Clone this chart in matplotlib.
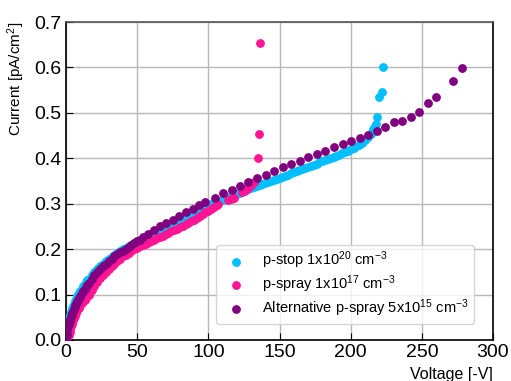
import matplotlib
matplotlib.use("Agg")
import matplotlib.pyplot as plt

plt.rcParams['font.family'] = ['Liberation Sans', 'DejaVu Sans']
plt.rcParams['mathtext.default'] = 'regular'

# p-stop 1x10^20 (dense scan)
pstop_v = [0, 0.5, 1, 1.5, 2, 2.5, 3, 3.5, 4, 4.5, 5, 5.5, 6, 6.5, 7, 7.5, 8, 8.5, 9, 9.5, 10, 11,
           12, 13, 14, 15, 16, 18, 20, 22, 24, 26, 28, 30,
           32, 34, 36, 38, 40, 42, 44, 46, 48, 50, 52, 54, 56, 58, 60, 62, 64, 66, 68, 70,
           72, 74, 76, 78, 80, 82, 84, 86, 88, 90, 92, 94, 96, 98, 100, 102, 104, 106, 108, 110,
           112, 114, 116, 118, 120, 122, 124, 126, 128, 130, 132, 134, 136, 138, 140, 142, 144, 146, 148, 150,
           152, 154, 156, 158, 160, 162, 164, 166, 168, 170, 172, 174, 176, 178, 180, 182, 184, 186, 188, 190,
           192, 194, 196, 198, 200, 202, 204, 206, 208, 210, 212, 214, 215, 216, 217, 217.8, 218.3, 219.9, 222, 223]
pstop_i = [0.000, 0.020, 0.030, 0.038, 0.045, 0.051, 0.056, 0.061, 0.065, 0.070, 0.074, 0.078, 0.082, 0.086, 0.090, 0.093, 0.097, 0.100, 0.103, 0.106, 0.108, 0.113,
           0.118, 0.122, 0.127, 0.131, 0.135, 0.143, 0.150, 0.156, 0.162, 0.167, 0.173, 0.178,
           0.182, 0.187, 0.191, 0.196, 0.200, 0.203, 0.207, 0.210, 0.214, 0.217, 0.220, 0.224, 0.227, 0.230, 0.233, 0.236, 0.239, 0.242, 0.245, 0.248,
           0.251, 0.254, 0.258, 0.261, 0.264, 0.267, 0.270, 0.274, 0.277, 0.280, 0.283, 0.286, 0.290, 0.293, 0.296, 0.299, 0.301, 0.304, 0.306, 0.309,
           0.312, 0.314, 0.317, 0.319, 0.322, 0.324, 0.327, 0.329, 0.332, 0.334, 0.336, 0.338, 0.341, 0.343, 0.345, 0.347, 0.350, 0.352, 0.355, 0.357,
           0.359, 0.362, 0.364, 0.367, 0.369, 0.371, 0.374, 0.376, 0.379, 0.381, 0.383, 0.386, 0.388, 0.391, 0.393, 0.396, 0.398, 0.401, 0.403, 0.406,
           0.408, 0.411, 0.414, 0.417, 0.420, 0.423, 0.426, 0.430, 0.434, 0.440, 0.446, 0.453, 0.458, 0.464, 0.470, 0.476, 0.490, 0.536, 0.546, 0.602]

# p-spray 1x10^17
pspray_v = [0, 1, 2, 2.5, 3, 3.5, 4, 4.5, 5, 5.5, 6, 7, 8, 9, 10, 11, 12, 13, 14, 15, 16, 17, 18, 20,
            22, 24, 26, 28, 30, 32, 34, 36, 38, 40,
            42, 44, 46, 48, 50, 52, 54, 56, 58, 60, 62, 64, 66, 68, 70, 72, 74, 76, 78, 80,
            82, 84, 86, 88, 90, 92, 94, 96, 98, 100, 102, 104, 106, 107,
            114, 115, 116, 117, 118, 124, 125, 126, 127, 128, 129, 130, 131, 132,
            134.6, 135.4, 136.3]
pspray_i = [0.000, 0.006, 0.012, 0.018, 0.024, 0.030, 0.035, 0.040, 0.044, 0.048, 0.052, 0.059, 0.065, 0.071, 0.076, 0.081, 0.085, 0.089, 0.093, 0.097, 0.100, 0.105, 0.110, 0.119,
            0.128, 0.137, 0.143, 0.150, 0.156, 0.162, 0.168, 0.174, 0.179, 0.184,
            0.188, 0.192, 0.196, 0.200, 0.203, 0.206, 0.209, 0.212, 0.215, 0.218, 0.221, 0.224, 0.227, 0.230, 0.233, 0.236, 0.239, 0.242, 0.245, 0.248,
            0.251, 0.255, 0.258, 0.262, 0.265, 0.269, 0.273, 0.277, 0.281, 0.285, 0.289, 0.293, 0.297, 0.299,
            0.309, 0.310, 0.311, 0.312, 0.313, 0.325, 0.327, 0.330, 0.333, 0.336, 0.339, 0.342, 0.345, 0.348,
            0.401, 0.453, 0.653]

# Alternative p-spray 5x10^15
alt_v = [0, 0.5, 1, 1.5, 2, 2.5, 3, 3.5, 4, 4.5, 5, 5.5, 6, 6.5, 7, 7.5, 8, 8.5, 9, 9.5, 10, 11,
         12, 13, 14, 15, 16, 18, 20, 22, 24, 26, 28, 30,
         32, 34, 36, 38, 40, 42, 44, 46, 48, 50, 52,
         54.3, 57.8, 61.8, 66.0, 70.3, 74.9, 79.4, 84.1, 89.0, 93.4, 97.7,
         104.7, 110.5, 116.4, 122.3, 128.1, 134.4, 140.3, 146.1, 152.2, 158.3, 164.1, 170.2,
         176.1, 182.2, 188.3, 194.4, 200.2, 206.3, 212.4, 218.3, 224.3, 230.2, 236.3, 242.2,
         248.2, 254.3, 260.2, 272.1, 278.2]
alt_i = [0.000, 0.012, 0.022, 0.030, 0.036, 0.042, 0.047, 0.052, 0.056, 0.060, 0.064, 0.068, 0.072, 0.076, 0.079, 0.083, 0.086, 0.089, 0.092, 0.095, 0.097, 0.103,
         0.108, 0.112, 0.117, 0.121, 0.126, 0.134, 0.142, 0.149, 0.156, 0.162, 0.168, 0.174,
         0.179, 0.184, 0.189, 0.193, 0.197, 0.201, 0.205, 0.209, 0.213, 0.217, 0.221,
         0.226, 0.234, 0.242, 0.250, 0.257, 0.265, 0.273, 0.281, 0.289, 0.297, 0.304,
         0.313, 0.323, 0.330, 0.340, 0.348, 0.356, 0.364, 0.372, 0.380, 0.387, 0.395, 0.403,
         0.410, 0.417, 0.424, 0.431, 0.438, 0.445, 0.452, 0.459, 0.469, 0.479, 0.481, 0.490,
         0.502, 0.522, 0.536, 0.571, 0.599]

labels = [r'p-stop 1x10$^{20}$ cm$^{-3}$',
          r'p-spray 1x10$^{17}$ cm$^{-3}$',
          r'Alternative p-spray 5x10$^{15}$ cm$^{-3}$']
colors = ['#00bfff', '#ff1493', '#800080']

fig = plt.figure(figsize=(5.11, 3.81), dpi=100)
ax = fig.add_axes([66 / 511, 41 / 381, 427 / 511, 318 / 381])

for v, i, lab, c in zip([pstop_v, pspray_v, alt_v], [pstop_i, pspray_i, alt_i], labels, colors):
    ax.scatter(v, i, s=40, color=c, label=lab, linewidths=0, zorder=3)

ax.set_xlim(0, 300)
ax.set_ylim(0, 0.7)
ax.set_xticks([0, 50, 100, 150, 200, 250, 300])
ax.set_yticks([0.0, 0.1, 0.2, 0.3, 0.4, 0.5, 0.6, 0.7])
ax.set_yticklabels(['0.0', '0.1', '0.2', '0.3', '0.4', '0.5', '0.6', '0.7'])
ax.grid(True, color='#b8b8b8', linewidth=1.0)
ax.set_axisbelow(True)
ax.tick_params(direction='in', length=5, labelsize=14, pad=3)
for s in ax.spines.values():
    s.set_linewidth(1.2)
ax.spines['top'].set_color('#555555')

ax.set_ylabel('Current [pA/cm$^2$]', fontsize=11, loc='top')
ax.yaxis.set_label_coords(-0.092, 1.0)
ax.set_xlabel('Voltage [-V]', fontsize=11.5, loc='right')
ax.xaxis.set_label_coords(1.0, -0.085)

ax.legend(loc='lower right', bbox_to_anchor=(0.955, 0.05), borderaxespad=0,
          fontsize=10.5, scatterpoints=1, labelspacing=0.15, borderpad=0.35)

fig.savefig('out.png', dpi=100)
